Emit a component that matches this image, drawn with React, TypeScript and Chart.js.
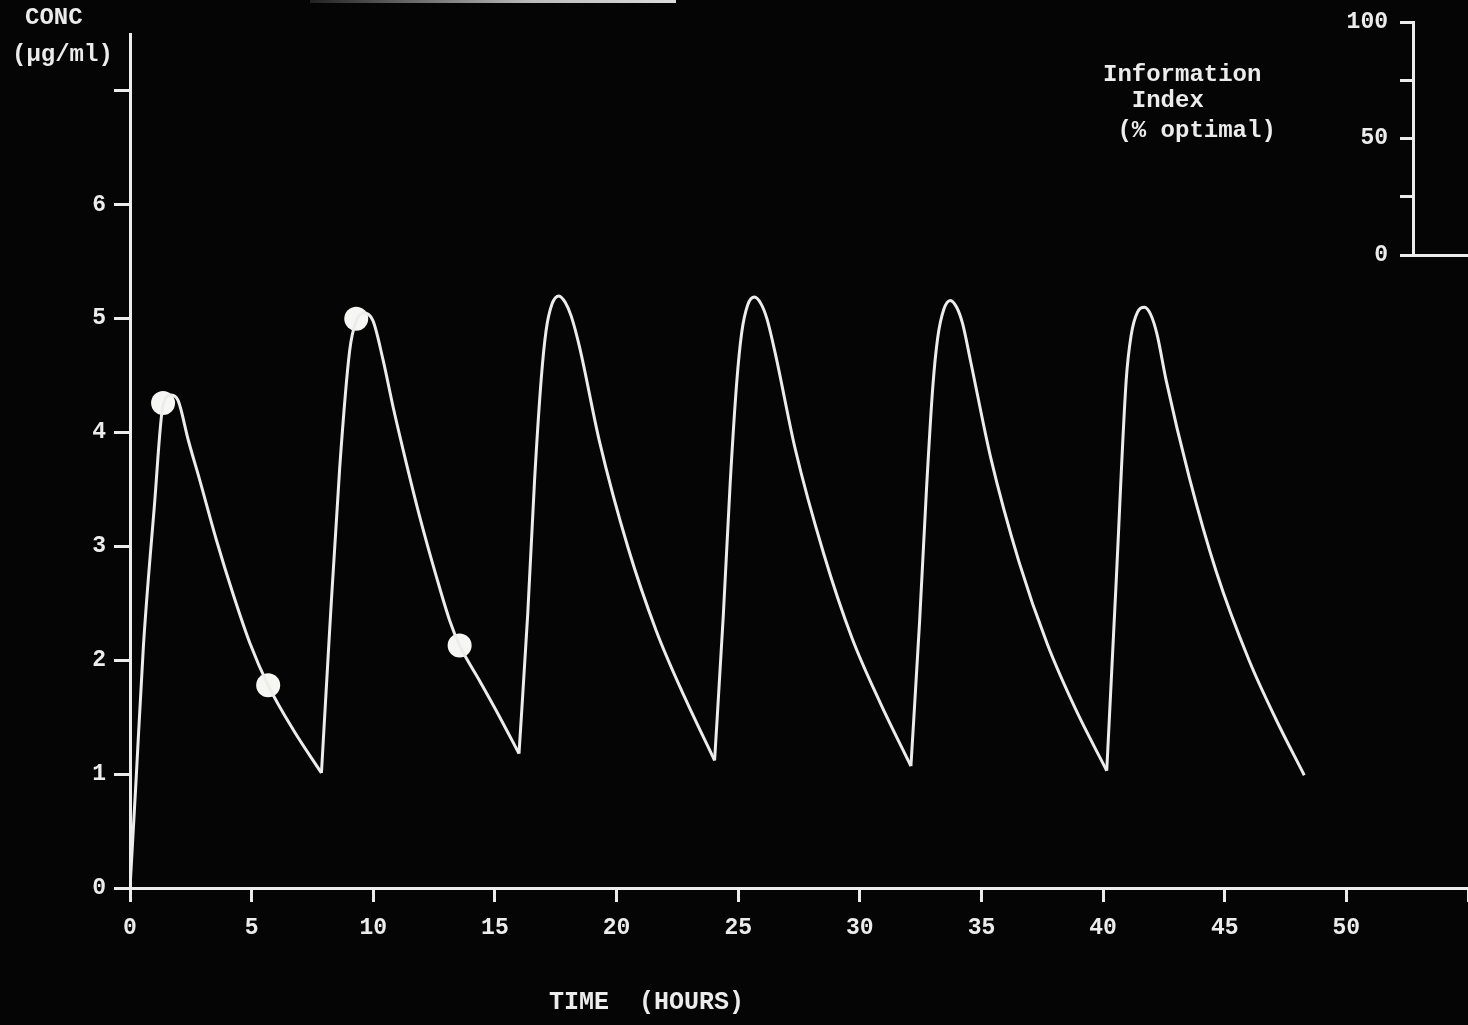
import React, { useEffect, useRef } from "react";
import { Chart, registerables } from "chart.js";

Chart.register(...registerables);

// ---- data ----
// dose times: the curve has a sharp corner (trough) at each of these times
const doseTimes = [0, 7.87, 15.99, 24.03, 32.1, 40.15];

const timeHours = [
  0, 0.25, 0.55, 1.0, 1.36, 1.7, 1.98, 2.4, 2.87, 3.56, 4.24, 4.93, 5.68, 6.71, 7.87,
  8.2, 8.62, 9.03, 9.3, 9.6, 9.99, 10.4, 10.82, 11.36, 11.91, 12.6, 13.14, 13.55, 14.37, 15.2, 15.99,
  16.35, 16.63, 16.9, 17.1, 17.35, 17.63, 17.9, 18.14, 18.48, 19.3, 20.47, 21.63, 22.79, 24.03,
  24.39, 24.67, 24.94, 25.14, 25.39, 25.67, 25.94, 26.18, 26.52, 27.34, 28.51, 29.67, 30.83, 32.1,
  32.46, 32.74, 33.0, 33.2, 33.45, 33.72, 33.98, 34.22, 34.56, 35.38, 36.55, 37.71, 38.87, 40.15,
  40.54, 40.95, 41.15, 41.42, 41.7, 41.97, 42.22, 42.59, 43.55, 44.65, 46.0, 47.11, 48.27,
];
const concentration = [
  0, 0.95, 2.12, 3.35, 4.24, 4.33, 4.28, 3.93, 3.58, 3.05, 2.58, 2.15, 1.78, 1.39, 1.01,
  2.24, 3.69, 4.72, 4.98, 5.05, 4.98, 4.64, 4.22, 3.73, 3.26, 2.73, 2.35, 2.13, 1.82, 1.5, 1.18,
  2.41, 3.58, 4.46, 4.89, 5.13, 5.2, 5.14, 5.02, 4.75, 3.92, 2.99, 2.26, 1.68, 1.12,
  2.4, 3.55, 4.44, 4.87, 5.12, 5.19, 5.13, 5.0, 4.7, 3.86, 2.94, 2.2, 1.63, 1.07,
  2.35, 3.5, 4.4, 4.83, 5.08, 5.16, 5.1, 4.96, 4.62, 3.78, 2.86, 2.14, 1.57, 1.03,
  2.7, 4.46, 4.85, 5.06, 5.1, 5.03, 4.86, 4.46, 3.6, 2.78, 2.0, 1.48, 0.99,
];
const sampleTimes = [1.36, 5.68, 9.3, 13.55];
const sampleConc = [4.26, 1.78, 5.0, 2.13];

const concTicks = [0, 1, 2, 3, 4, 5, 6, 7];
const concTickLabels = ["0", "1", "2", "3", "4", "5", "6", ""];
const timeTicks = [0, 5, 10, 15, 20, 25, 30, 35, 40, 45, 50, 55];
const timeTickLabels = ["0", "5", "10", "15", "20", "25", "30", "35", "40", "45", "50", ""];
const infoTicks = [0, 25, 50, 75, 100];
const infoTickLabels = ["0", "", "50", "", "100"];

const yTitleLines = ["CONC", "(\u00b5g/ml)"];
const xTitle = "TIME  (HOURS)";
const infoTitleLines = ["Information", "  Index", " (% optimal)"];

// ---- styling ----
const FONT = "'Liberation Mono', 'DejaVu Sans Mono', monospace";
const INK = "#ececec";
const BG = "#050505";

const labelFor = (ticks: number[], labels: string[]) => (v: any) => {
  const i = ticks.indexOf(Number(v));
  return i >= 0 ? labels[i] : "";
};

const noPad = (s: any) => {
  s.paddingLeft = 0;
  s.paddingRight = 0;
  s.paddingTop = 0;
  s.paddingBottom = 0;
};

// split the concentration curve into one piece per dosing interval
const cycleSegments = doseTimes.map((start, i) => {
  const end = i + 1 < doseTimes.length ? doseTimes[i + 1] : Infinity;
  const pts: { x: number; y: number }[] = [];
  timeHours.forEach((t, j) => {
    if (t >= start && t <= end) pts.push({ x: t, y: concentration[j] });
  });
  return pts;
});

export default function App() {
  const mainRef = useRef<HTMLCanvasElement | null>(null);
  const infoRef = useRef<HTMLCanvasElement | null>(null);

  useEffect(() => {
    const tickFont = { family: FONT, size: 23, weight: "bold" as const };

    const curveSets = cycleSegments.map((pts, i) => ({
      label: "Concentration " + (i + 1),
      data: pts,
      borderColor: INK,
      borderWidth: 3,
      pointRadius: 0,
      cubicInterpolationMode: "monotone" as const,
      fill: false,
    }));

    const main = new Chart(mainRef.current as HTMLCanvasElement, {
      type: "line",
      data: {
        datasets: [
          ...curveSets,
          {
            label: "Samples",
            type: "scatter",
            data: sampleTimes.map((t, i) => ({ x: t, y: sampleConc[i] })),
            pointRadius: 12,
            pointBackgroundColor: "#f6f6f2",
            pointBorderWidth: 0,
            showLine: false,
          } as any,
        ],
      },
      options: {
        responsive: false,
        animation: false,
        layout: { autoPadding: false, padding: { top: 34, right: 0, left: 0, bottom: 0 } },
        plugins: { legend: { display: false }, tooltip: { enabled: false } },
        scales: {
          x: {
            type: "linear",
            min: 0,
            max: 55,
            afterBuildTicks: (s: any) => {
              s.ticks = timeTicks.map((v) => ({ value: v }));
            },
            afterFit: (s: any) => {
              s.height = 137;
              noPad(s);
            },
            ticks: {
              callback: labelFor(timeTicks, timeTickLabels),
              color: INK,
              font: tickFont,
              padding: 12,
              maxRotation: 0,
              autoSkip: false,
            },
            grid: {
              drawOnChartArea: false,
              drawTicks: true,
              tickLength: 14,
              color: INK,
              lineWidth: 3,
            },
            border: { display: true, color: INK, width: 3 },
          },
          y: {
            type: "linear",
            min: 0,
            max: 7.5,
            afterBuildTicks: (s: any) => {
              s.ticks = concTicks.map((v) => ({ value: v }));
            },
            afterFit: (s: any) => {
              s.width = 130;
              noPad(s);
            },
            ticks: {
              callback: labelFor(concTicks, concTickLabels),
              color: INK,
              font: tickFont,
              padding: 8,
              autoSkip: false,
            },
            grid: {
              drawOnChartArea: false,
              drawTicks: true,
              tickLength: 16,
              color: INK,
              lineWidth: 3,
            },
            border: { display: true, color: INK, width: 3 },
          },
        },
      },
    });

    const info = new Chart(infoRef.current as HTMLCanvasElement, {
      type: "line",
      data: { datasets: [] },
      options: {
        responsive: false,
        animation: false,
        layout: { autoPadding: false, padding: { top: 22, right: 0, left: 0, bottom: 0 } },
        plugins: { legend: { display: false }, tooltip: { enabled: false } },
        scales: {
          x: {
            type: "linear",
            min: 0,
            max: 10,
            afterFit: (s: any) => {
              s.height = 25;
              noPad(s);
            },
            ticks: { display: false },
            grid: { drawOnChartArea: false, drawTicks: false, color: INK, lineWidth: 3 },
            border: { display: true, color: INK, width: 3 },
          },
          y: {
            type: "linear",
            min: 0,
            max: 100,
            afterBuildTicks: (s: any) => {
              s.ticks = infoTicks.map((v) => ({ value: v }));
            },
            afterFit: (s: any) => {
              s.width = 113;
              noPad(s);
            },
            ticks: {
              callback: labelFor(infoTicks, infoTickLabels),
              color: INK,
              font: tickFont,
              padding: 12,
              autoSkip: false,
            },
            grid: {
              drawOnChartArea: false,
              drawTicks: true,
              tickLength: 13,
              color: INK,
              lineWidth: 3,
            },
            border: { display: true, color: INK, width: 3 },
          },
        },
      },
    });

    return () => {
      main.destroy();
      info.destroy();
    };
  }, []);

  const text: React.CSSProperties = {
    position: "absolute",
    fontFamily: FONT,
    fontWeight: "bold",
    fontSize: 24,
    lineHeight: "24px",
    color: INK,
    whiteSpace: "pre",
    margin: 0,
  };

  return (
    <div
      style={{
        position: "fixed",
        left: 0,
        top: 0,
        width: 1468,
        height: 1025,
        background: BG,
        overflow: "hidden",
      }}
    >
      <canvas
        ref={mainRef}
        width={1468}
        height={1025}
        style={{ position: "absolute", left: 0, top: 0, width: 1468, height: 1025 }}
      />
      <canvas
        ref={infoRef}
        width={168}
        height={280}
        style={{ position: "absolute", left: 1300, top: 0, width: 168, height: 280 }}
      />
      <div
        style={{
          position: "absolute",
          left: 310,
          top: 0,
          width: 366,
          height: 3,
          background: "linear-gradient(to right, #222, #bbb 60%, #ddd)",
        }}
      />
      <div style={{ ...text, left: 25, top: 6 }}>{yTitleLines[0]}</div>
      <div style={{ ...text, left: 12, top: 43 }}>{yTitleLines[1]}</div>
      <div style={{ ...text, left: 1103, top: 63 }}>{infoTitleLines[0]}</div>
      <div style={{ ...text, left: 1103, top: 89 }}>{infoTitleLines[1]}</div>
      <div style={{ ...text, left: 1103, top: 119 }}>{infoTitleLines[2]}</div>
      <div style={{ ...text, left: 549, top: 991, fontSize: 25 }}>{xTitle}</div>
    </div>
  );
}
